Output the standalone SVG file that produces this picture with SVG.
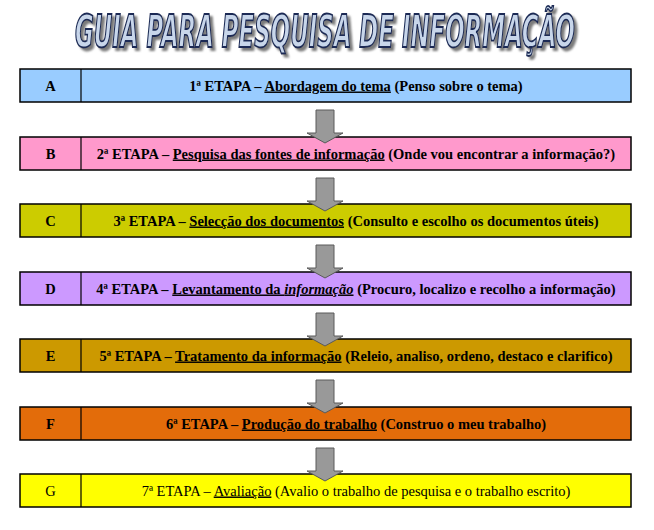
<svg xmlns="http://www.w3.org/2000/svg" width="654" height="530" viewBox="0 0 654 530">
<defs>
<style>
.box{stroke:#000;stroke-width:1.5}
.div{stroke:#000;stroke-width:1.2}
.t{font-family:"Liberation Serif","Times New Roman",serif;font-size:14.5px;font-weight:bold;fill:#000;text-anchor:middle}
.n{font-weight:normal}
.u{text-decoration:underline}
.arrow{fill:#999999;stroke:#5a5a5a;stroke-width:1}
.title{font-family:"DejaVu Sans Condensed","DejaVu Sans","Liberation Sans",sans-serif;font-size:44px;font-weight:bold;font-style:italic;text-anchor:middle}
</style>
<filter id="shadow" filterUnits="userSpaceOnUse" x="40" y="0" width="580" height="64">
<feDropShadow dx="3" dy="3" stdDeviation="0.8" flood-color="#7a7a7a" flood-opacity="1"/>
</filter>
<path id="arr" class="arrow" d="M-9,0 H9 V23 H18 L0,33 L-18,23 H-9 Z"/>
</defs>
<rect width="654" height="530" fill="#fff"/>
<g id="title">
<text class="title" x="325" y="47" textLength="500" lengthAdjust="spacingAndGlyphs" fill="#c8d6ea" stroke="#1c2b55" stroke-width="1.8" filter="url(#shadow)">GUIA PARA PESQUISA DE INFORMAÇÃO</text>
</g>
<g id="nodeA">
<rect class="box" x="20" y="69" width="611" height="33" fill="#99ccff"/>
<line class="div" x1="81" y1="69" x2="81" y2="102"/>
<text class="t" x="50.5" y="90.5">A</text>
<text class="t" x="356" y="90.5">1ª ETAPA – <tspan class="u">Abordagem do tema</tspan> (Penso sobre o tema)</text>
</g>
<g id="nodeB">
<rect class="box" x="20" y="137" width="611" height="33" fill="#ff99cc"/>
<line class="div" x1="81" y1="137" x2="81" y2="170"/>
<text class="t" x="50.5" y="158.5">B</text>
<text class="t" x="356" y="158.5">2ª ETAPA – <tspan class="u">Pesquisa das fontes de informação</tspan> (Onde vou encontrar a informação?)</text>
</g>
<g id="nodeC">
<rect class="box" x="20" y="204" width="611" height="33" fill="#cccc00"/>
<line class="div" x1="81" y1="204" x2="81" y2="237"/>
<text class="t" x="50.5" y="225.5">C</text>
<text class="t" x="356" y="225.5">3ª ETAPA – <tspan class="u">Selecção dos documentos</tspan> (Consulto e escolho os documentos úteis)</text>
</g>
<g id="nodeD">
<rect class="box" x="20" y="272" width="611" height="33" fill="#cc99ff"/>
<line class="div" x1="81" y1="272" x2="81" y2="305"/>
<text class="t" x="50.5" y="293.5">D</text>
<text class="t" x="356" y="293.5">4ª ETAPA – <tspan class="u">Levantamento da </tspan><tspan class="u" font-style="italic">informação</tspan> (Procuro, localizo e recolho a informação)</text>
</g>
<g id="nodeE">
<rect class="box" x="20" y="339" width="611" height="33" fill="#cc9900"/>
<line class="div" x1="81" y1="339" x2="81" y2="372"/>
<text class="t" x="50.5" y="360.5">E</text>
<text class="t" x="356" y="360.5">5ª ETAPA – <tspan class="u">Tratamento da informação</tspan> (Releio, analiso, ordeno, destaco e clarifico)</text>
</g>
<g id="nodeF">
<rect class="box" x="20" y="407" width="611" height="33" fill="#e36c0a"/>
<line class="div" x1="81" y1="407" x2="81" y2="440"/>
<text class="t" x="50.5" y="428.5">F</text>
<text class="t" x="356" y="428.5">6ª ETAPA – <tspan class="u">Produção do trabalho</tspan> (Construo o meu trabalho)</text>
</g>
<g id="nodeG">
<rect class="box" x="20" y="474" width="611" height="33" fill="#ffff00"/>
<line class="div" x1="81" y1="474" x2="81" y2="507"/>
<text class="t n" x="50.5" y="495.5">G</text>
<text class="t n" x="356" y="495.5">7ª ETAPA – <tspan class="u">Avaliação</tspan> (Avalio o trabalho de pesquisa e o trabalho escrito)</text>
</g>
<g id="connectors">
<use href="#arr" x="325" y="110"/>
<use href="#arr" x="325" y="178"/>
<use href="#arr" x="325" y="245"/>
<use href="#arr" x="325" y="313"/>
<use href="#arr" x="325" y="380"/>
<use href="#arr" x="325" y="448"/>
</g>
</svg>
